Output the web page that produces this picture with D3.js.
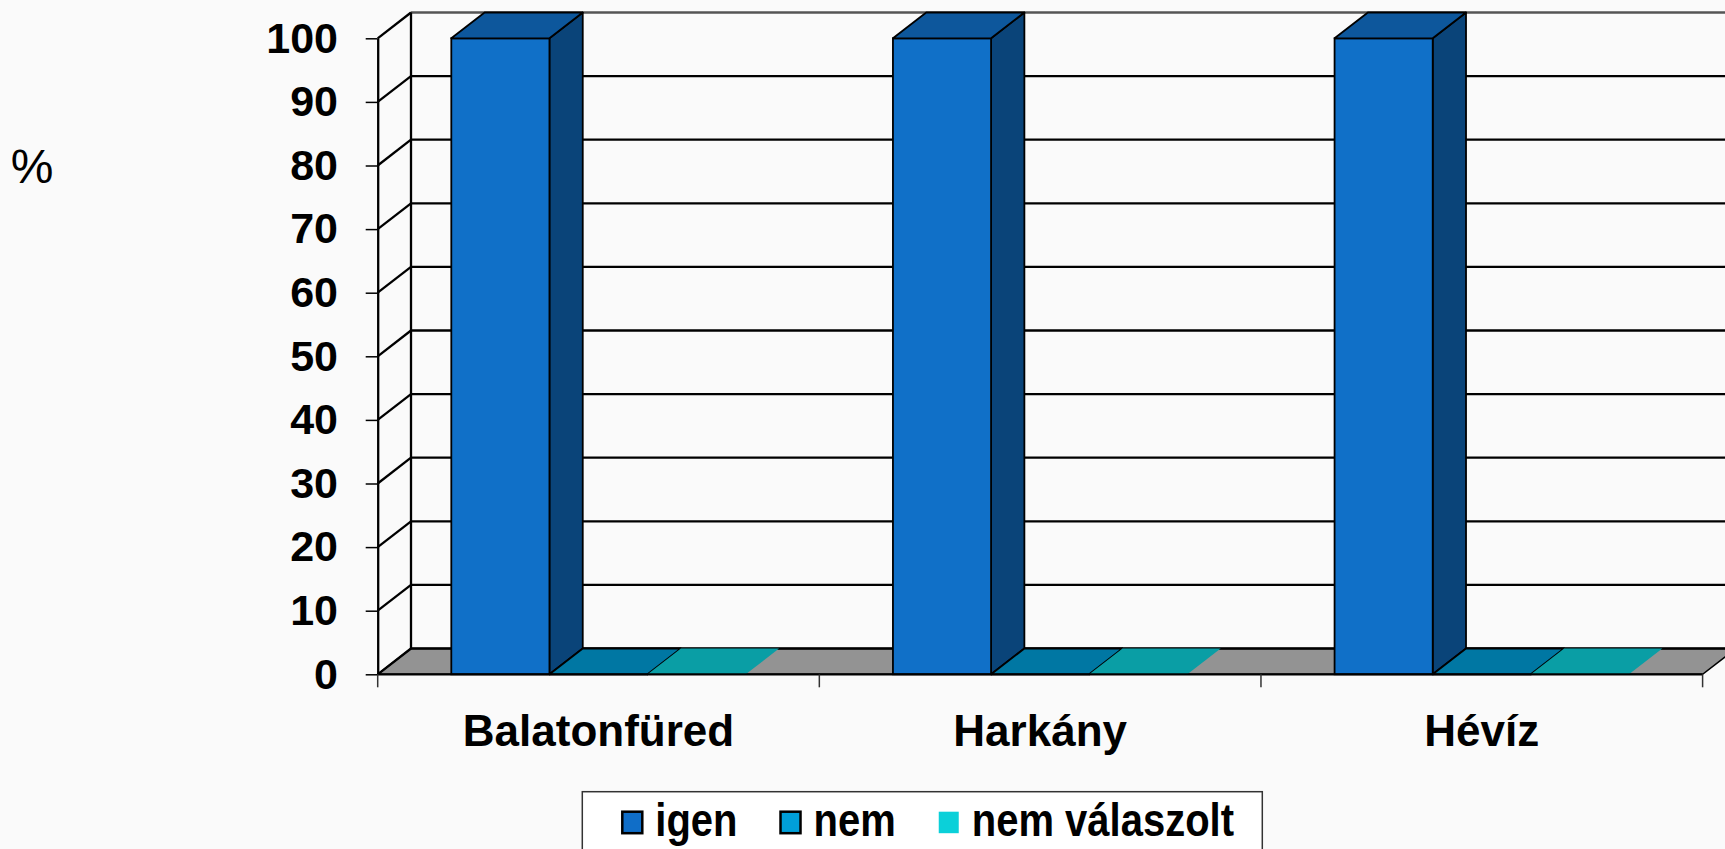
<!DOCTYPE html>
<html>
<head>
<meta charset="utf-8">
<script src="https://cdn.jsdelivr.net/npm/d3@7"></script>
<style>
  body { margin: 0; background: #fafafa; }
  svg { display: block; font-family: "Liberation Sans", Arial, sans-serif; }
</style>
</head>
<body>
<div id="chart"></div>
<script>
// data
const categories = ["Balatonfüred", "Harkány", "Hévíz"];
const seriesNames = ["igen", "nem", "nem válaszolt"];
const igenValues = [100, 100, 100];
const nemValues = [0, 0, 0];
const nemValaszoltValues = [0, 0, 0];
const yTickValues = [0, 10, 20, 30, 40, 50, 60, 70, 80, 90, 100];
const yLabel = "%";

// colours per series: front, top, side, legend
const colors = {
  "igen": { front: "#1070c8", top: "#0d579c", side: "#0a4479", legend: "#106ec8", stroke: "#000" },
  "nem": { front: "#009dd9", top: "#0077a3", side: "#005c80", legend: "#009fd9", stroke: "#000" },
  "nem válaszolt": { front: "#0bd0d9", top: "#0a9ea5", side: "#087a80", legend: "#0bd0d9", stroke: "none" }
};

// build rows
const data = categories.map((c, i) => ({
  cat: c,
  values: [igenValues[i], nemValues[i], nemValaszoltValues[i]]
}));

const W = 1725, H = 849;
const plot = { left: 377.7, right: 1702.6, top: 38.3, bottom: 674.3 };
const depth = { dx: 33.3, dy: 25.8 };

const svg = d3.select("#chart").append("svg")
  .attr("width", W).attr("height", H);

const x = d3.scaleBand().domain(categories).range([plot.left, plot.right]).padding(0);
const xs = d3.scaleBand().domain(seriesNames).range([0, x.bandwidth()])
  .paddingInner(0).paddingOuter(0.75);
const y = d3.scaleLinear().domain([0, 100]).range([plot.bottom, plot.top]);

// floor
const x0 = plot.left, x1 = plot.right, y0 = y(0);
svg.append("polygon")
  .attr("points", [[x0, y0], [x1, y0], [x1 + depth.dx, y0 - depth.dy], [x0 + depth.dx, y0 - depth.dy]].join(" "))
  .attr("fill", "#939393")
  .attr("stroke", "#000").attr("stroke-width", 1.5);

// back wall gridlines
svg.append("g").selectAll("line").data(yTickValues).join("line")
  .attr("x1", x0 + depth.dx).attr("x2", x1 + depth.dx + 40)
  .attr("y1", d => y(d) - depth.dy).attr("y2", d => y(d) - depth.dy)
  .attr("stroke", d => d === 100 ? "#555" : "#000")
  .attr("stroke-width", 2.3);

// left wall diagonals
svg.append("g").selectAll("line").data(yTickValues).join("line")
  .attr("x1", x0).attr("x2", x0 + depth.dx)
  .attr("y1", d => y(d)).attr("y2", d => y(d) - depth.dy)
  .attr("stroke", "#000").attr("stroke-width", 2.3);

// back wall left edge
svg.append("line")
  .attr("x1", x0 + depth.dx).attr("x2", x0 + depth.dx)
  .attr("y1", y(100) - depth.dy).attr("y2", y(0) - depth.dy)
  .attr("stroke", "#000").attr("stroke-width", 2.3);

// bars
const barG = svg.append("g");
data.forEach(row => {
  row.values.forEach((v, j) => {
    const s = seriesNames[j];
    const c = colors[s];
    const bx = x(row.cat) + xs(s), bw = xs.bandwidth();
    const yt = y(v);
    const g = barG.append("g");
    // side
    g.append("polygon")
      .attr("points", [[bx + bw, yt], [bx + bw + depth.dx, yt - depth.dy], [bx + bw + depth.dx, y0 - depth.dy], [bx + bw, y0]].join(" "))
      .attr("fill", c.side).attr("stroke", c.stroke).attr("stroke-width", 1.8).attr("stroke-linejoin", "round");
    // front
    g.append("rect")
      .attr("x", bx).attr("y", yt).attr("width", bw).attr("height", y0 - yt)
      .attr("fill", c.front).attr("stroke", c.stroke).attr("stroke-width", 1.8);
    // top
    g.append("polygon")
      .attr("points", [[bx, yt], [bx + bw, yt], [bx + bw + depth.dx, yt - depth.dy], [bx + depth.dx, yt - depth.dy]].join(" "))
      .attr("fill", c.top).attr("stroke", c.stroke).attr("stroke-width", 1.8).attr("stroke-linejoin", "round");
  });
});

// front baseline
svg.append("line")
  .attr("x1", x0).attr("x2", x1).attr("y1", y0).attr("y2", y0)
  .attr("stroke", "#000").attr("stroke-width", 2.3);

// y axis
const yAxis = svg.append("g")
  .attr("transform", `translate(${x0},0)`)
  .call(d3.axisLeft(y).tickValues(yTickValues).tickSize(12).tickPadding(27.7).tickSizeOuter(0));
yAxis.select(".domain").attr("stroke", "#000").attr("stroke-width", 2.3);
yAxis.selectAll(".tick line").attr("stroke", "#000").attr("stroke-width", 1.5);
yAxis.selectAll(".tick text")
  .attr("fill", "#000")
  .style("font-family", "'Liberation Sans', Arial, sans-serif")
  .style("font-size", "43px").style("font-weight", "bold");

// category boundary ticks
const bounds = categories.map(c => x(c)).concat([x1]);
svg.append("g").selectAll("line").data(bounds).join("line")
  .attr("x1", d => d).attr("x2", d => d)
  .attr("y1", y0).attr("y2", y0 + 13)
  .attr("stroke", "#333").attr("stroke-width", 1.5);

// x axis labels
const xAxis = svg.append("g")
  .attr("transform", `translate(0,${y0})`)
  .call(d3.axisBottom(x).tickSize(0).tickPadding(40));
xAxis.select(".domain").remove();
xAxis.selectAll(".tick text")
  .attr("fill", "#000")
  .style("font-family", "'Liberation Sans', Arial, sans-serif")
  .style("font-size", "44px").style("font-weight", "bold");

// y label
svg.append("text")
  .attr("x", 32).attr("y", 183)
  .attr("text-anchor", "middle")
  .style("font-size", "48px")
  .attr("fill", "#000")
  .text(yLabel);

// legend
const legend = svg.append("g");
legend.append("rect")
  .attr("x", 582.3).attr("y", 791.7).attr("width", 680).attr("height", 90)
  .attr("fill", "#fff").attr("stroke", "#333").attr("stroke-width", 1.5);
let lx = 622.3;
seriesNames.forEach(s => {
  const c = colors[s];
  legend.append("rect")
    .attr("x", lx).attr("y", 811.7).attr("width", 20).attr("height", 21.5)
    .attr("fill", c.legend)
    .attr("stroke", c.stroke === "none" ? "none" : "#000").attr("stroke-width", 2.5);
  const t = legend.append("text")
    .attr("transform", `translate(${lx + 33},836) scale(1,1.15)`)
    .style("font-size", "40px").style("font-weight", "bold")
    .attr("fill", "#000")
    .text(s);
  lx += 33 + t.node().getComputedTextLength() + 43;
});
</script>
</body>
</html>
